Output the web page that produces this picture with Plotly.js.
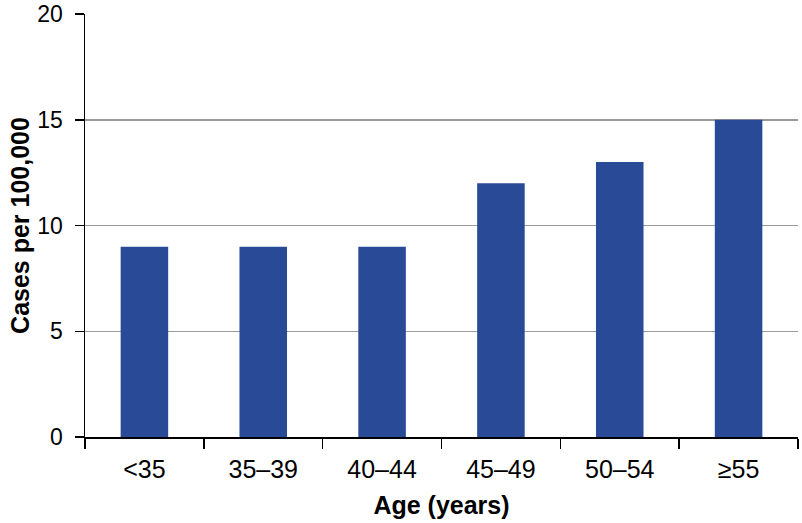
<!DOCTYPE html>
<html>
<head>
<meta charset="utf-8">
<script src="https://cdn.plot.ly/plotly-3.0.1.min.js"></script>
<style>html,body{margin:0;padding:0;background:#fff}#chart{width:802px;height:523px}</style>
</head>
<body>
<div id="chart"></div>
<script>
const categories = ["<35", "35\u201339", "40\u201344", "45\u201349", "50\u201354", "\u226555"];
const casesPer100k = [9, 9, 9, 12, 13, 15];
const yTickVals = [0, 5, 10, 15, 20];

const trace = {
  type: "bar",
  x: categories,
  y: casesPer100k,
  marker: {color: "#294a96", line: {width: 0}},
  hoverinfo: "x+y"
};

const layout = {
  width: 802,
  height: 523,
  margin: {l: 85, r: 4, t: 14, b: 86},
  paper_bgcolor: "#ffffff",
  plot_bgcolor: "#ffffff",
  font: {family: "Liberation Sans, Arial, Helvetica, sans-serif", color: "#000", size: 23},
  bargap: 0.6,
  showlegend: false,
  xaxis: {
    type: "category",
    tickson: "boundaries",
    ticks: "outside",
    ticklen: 10,
    tickwidth: 1.5,
    tickcolor: "#000",
    ticklabelstandoff: 9,
    showline: true,
    linecolor: "#000",
    linewidth: 1.5,
    showgrid: false,
    tickfont: {size: 25},
    title: {text: "<b>Age (years)</b>", font: {size: 25}, standoff: 15},
    automargin: false
  },
  yaxis: {
    range: [0, 20],
    tickvals: yTickVals,
    ticks: "outside",
    ticklen: 9,
    tickwidth: 1.5,
    tickcolor: "#000",
    ticklabelstandoff: 7,
    showline: true,
    linecolor: "#000",
    linewidth: 1.5,
    showgrid: true,
    gridcolor: "#9a9a9a",
    gridwidth: 1.5,
    zeroline: false,
    tickfont: {size: 23},
    title: {text: "<b>Cases per 100,000</b>", font: {size: 25}, standoff: 0},
    automargin: false
  }
};

Plotly.newPlot("chart", [trace], layout, {staticPlot: true, displayModeBar: false});
</script>
</body>
</html>
